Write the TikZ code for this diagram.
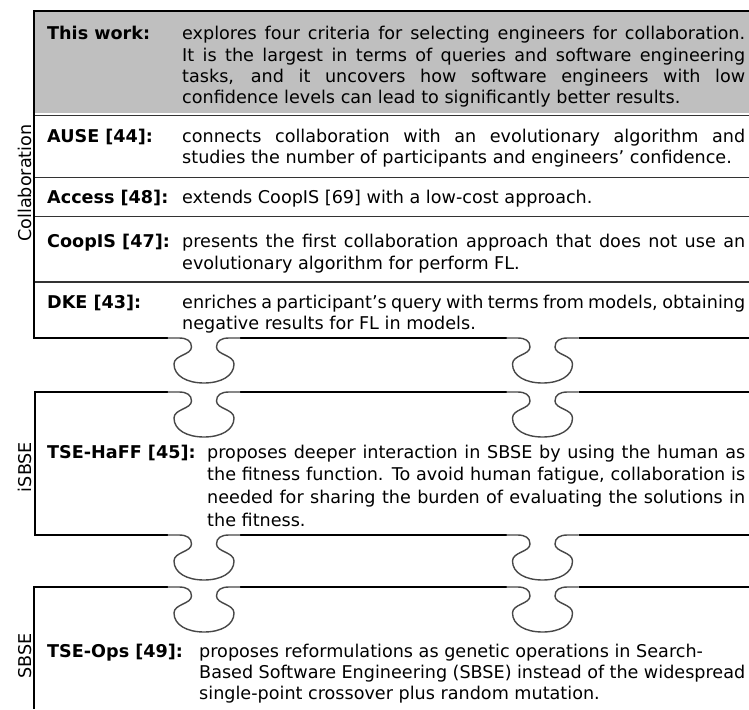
\documentclass[tikz,border=0pt]{standalone}
\usepackage{fontspec}
\setmainfont{DejaVu Sans}
\newcommand\fsz{\fontsize{17.6pt}{21.5pt}\selectfont}
% a line stretched to the full column width
\newcommand\jl[1]{\makebox[\linewidth][s]{#1}}
\begin{document}
\begin{tikzpicture}[x=1pt,y=-1pt,
  frame/.style={line width=2pt, black, line join=miter},
  rowrule/.style={line width=1.2pt, black!80},
  tabcurve/.style={line width=1.4pt, black!72, line cap=round},
  lbl/.style={anchor=base west, inner sep=0pt, font=\bfseries\fsz},
  desc/.style={anchor=base west, inner sep=0pt, font=\fsz},
  side/.style={anchor=base, inner sep=0pt, rotate=90, font=\fsz},
  puzzletab/.pic={
    \draw[tabcurve] (-36,0) -- (-25,0)
      .. controls (-17,0) and (-12.5,3) .. (-12.5,9)
      .. controls (-12.5,17) and (-30,17) .. (-30,26)
      .. controls (-30,38) and (-17,45) .. (0,45)
      .. controls (17,45) and (30,38) .. (30,26)
      .. controls (30,17) and (12.5,17) .. (12.5,9)
      .. controls (12.5,3) and (17,0) .. (25,0) -- (36,0);
  }]
\fill[white] (0,0) rectangle (749,709);
\useasboundingbox (0,0) rectangle (749,709);

% ---------- Collaboration block ----------
\fill[black!25] (34,11) rectangle (749,112.5);
\foreach \y in {115.5,177.5,216.5,282} \draw[rowrule] (34,\y) -- (749,\y);
\draw[frame] (749,11) -- (34,11) -- (34,338) -- (168,338);
\draw[frame] (240,338) -- (506.5,338);
\draw[frame] (578.5,338) -- (749,338);
\pic at (204,338) {puzzletab};
\pic at (542.5,338) {puzzletab};

\node[side] (collab) at (31.5,183) {Collaboration};

\node[lbl] (lthis) at (47,40) {This work:};
\node[desc] (dthis) at (182,40) {\parbox[t]{563pt}{\baselineskip=21.3pt
  \jl{explores four criteria for selecting engineers for collaboration.}\\
  \jl{It is the largest in terms of queries and software engineering}\\
  \jl{tasks, and it uncovers how software engineers with low}\\
  confidence levels can lead to significantly better results.}};

\node[lbl] (lause) at (47,142) {AUSE [44]:};
\node[desc] (dause) at (182,142) {\parbox[t]{563pt}{\baselineskip=21.5pt
  \jl{connects collaboration with an evolutionary algorithm and}\\
  studies the number of participants and engineers’ confidence.}};

\node[lbl] (lacc) at (47,203) {Access [48]:};
\node[desc] (dacc) at (182,203) {extends CoopIS [69] with a low-cost approach.};

\node[lbl] (lcoop) at (47,247) {CoopIS [47]:};
\node[desc] (dcoop) at (182,247) {\parbox[t]{563pt}{\baselineskip=22pt
  \jl{presents the first collaboration approach that does not use an}\\
  evolutionary algorithm for perform FL.}};

\node[lbl] (ldke) at (47,308) {DKE [43]:};
\node[desc] (ddke) at (182,308) {\parbox[t]{563pt}{\baselineskip=21pt
  \jl{enriches a participant’s query with terms from models, obtaining}\\
  negative results for FL in models.}};

% ---------- iSBSE block ----------
\draw[frame] (168,392) -- (35,392) -- (35,535) -- (168,535);
\draw[frame] (240,392) -- (506.5,392);
\draw[frame] (578.5,392) -- (749,392);
\draw[frame] (240,535) -- (506.5,535);
\draw[frame] (578.5,535) -- (749,535);
\pic at (204,392) {puzzletab};
\pic at (542.5,392) {puzzletab};
\pic at (204,535) {puzzletab};
\pic at (542.5,535) {puzzletab};

\node[side] (isbse) at (31.5,467) {iSBSE};

\node[lbl] (lhaff) at (47,458) {TSE-HaFF [45]:};
\node[desc] (dhaff) at (207,458) {\parbox[t]{538pt}{\baselineskip=22.7pt
  \jl{proposes deeper interaction in SBSE by using the human as}\\
  \jl{the fitness function. To avoid human fatigue, collaboration is}\\
  \jl{needed for sharing the burden of evaluating the solutions in}\\
  the fitness.}};

% ---------- SBSE block ----------
\draw[frame] (168,587) -- (34,587) -- (34,709);
\draw[frame] (240,587) -- (506.5,587);
\draw[frame] (578.5,587) -- (749,587);
\pic at (204,587) {puzzletab};
\pic at (542.5,587) {puzzletab};

\node[side] (sbse) at (31.5,656) {SBSE};

\node[lbl] (lops) at (47,657) {TSE-Ops [49]:};
\node[desc] (dops) at (199,657) {\parbox[t]{546pt}{\baselineskip=21pt
  proposes reformulations as genetic operations in Search-\\
  \jl{Based Software Engineering (SBSE) instead of the widespread}\\
  single-point crossover plus random mutation.}};
\end{tikzpicture}
\end{document}
